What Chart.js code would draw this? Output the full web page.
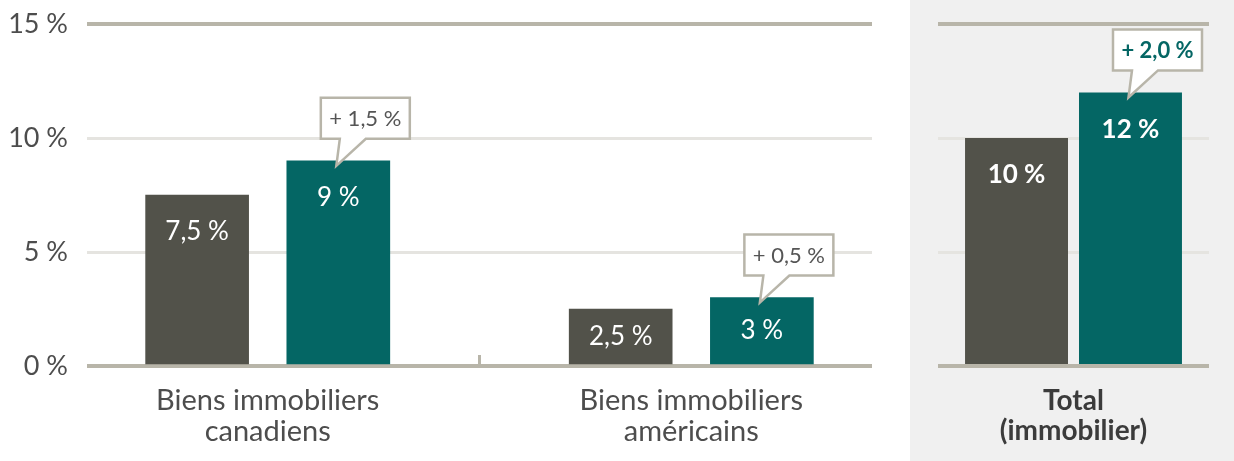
<!DOCTYPE html>
<html>
<head>
<meta charset="utf-8">
<script src="https://cdn.jsdelivr.net/npm/chart.js@4.4.1/dist/chart.umd.min.js"></script>
<style>
  body { margin: 0; background: #fff; }
  #wrap { position: relative; width: 1234px; height: 461px; }
  #left { position: absolute; left: 0; top: 0; }
  #panel { position: absolute; left: 910px; top: 0; width: 324px; height: 461px; background: #f0f0f0; }
</style>
</head>
<body>
<div id="wrap">
  <canvas id="left" width="910" height="461"></canvas>
  <div id="panel"><canvas id="right" width="324" height="461"></canvas></div>
</div>
<script>
// categories (x-axis labels)
var categories = [["Biens immobiliers", "canadiens"], ["Biens immobiliers", "américains"]];
var totalCategory = [["Total", "(immobilier)"]];
// values, in %
var before = [7.5, 2.5];
var after = [9, 3];
var totalBefore = [10];
var totalAfter = [12];
// y-axis ticks
var yTicks = [0, 5, 10, 15];

var grey = "#52524a", teal = "#046664";
var rule = "#b8b5a9", light = "#e5e4e0", txt = "#4d4d4d";

Chart.defaults.font.family = "Lato";

function pct(v) { return String(v).replace(".", ",") + " %"; }
function gain(a, b) { return "+ " + (b - a).toFixed(1).replace(".", ",") + " %"; }
function val(d) { return typeof d === "object" ? d.y : d; }

// bar labels, callouts and the divider tick
var marks = {
  id: "marks",
  afterDatasetsDraw: function(chart, args, opts) {
    var ctx = chart.ctx;
    var ds = chart.data.datasets;
    ctx.save();
    ds.forEach(function(set, di) {
      chart.getDatasetMeta(di).data.forEach(function(bar, i) {
        var h = bar.base - bar.y;
        var y = h < 90 ? bar.y + h / 2 : bar.y + 37;
        ctx.fillStyle = "#fff";
        ctx.font = (opts.bold ? "bold " : "") + "26px Lato";
        ctx.textAlign = "center";
        ctx.textBaseline = "middle";
        ctx.fillText(pct(val(set.data[i])), bar.x, y);
      });
    });
    chart.getDatasetMeta(1).data.forEach(function(bar, i) {
      var left = bar.x - bar.width / 2 + 34;
      var bottom = bar.y - 22;
      var top = bottom - 41, right = left + 89;
      ctx.beginPath();
      ctx.moveTo(left, top);
      ctx.lineTo(right, top);
      ctx.lineTo(right, bottom);
      ctx.lineTo(left + 45, bottom);
      ctx.lineTo(bar.x - 2, bar.y + 5);
      ctx.lineTo(left + 19, bottom);
      ctx.lineTo(left, bottom);
      ctx.closePath();
      ctx.fillStyle = "#fff";
      ctx.fill();
      ctx.lineWidth = 2.5;
      ctx.strokeStyle = rule;
      ctx.lineJoin = "miter";
      ctx.stroke();
      ctx.fillStyle = opts.bold ? teal : "#555";
      ctx.font = (opts.bold ? "bold " : "") + "22px Lato";
      ctx.fillText(gain(val(ds[0].data[i]), val(ds[1].data[i])), (left + right) / 2, (top + bottom) / 2 + 1);
    });
    if (opts.divider !== undefined) {
      var x = chart.scales.x.getPixelForValue(opts.divider);
      ctx.beginPath();
      ctx.moveTo(x, chart.chartArea.bottom - 11);
      ctx.lineTo(x, chart.chartArea.bottom);
      ctx.lineWidth = 3;
      ctx.strokeStyle = rule;
      ctx.stroke();
    }
    ctx.restore();
  }
};

function yGrid() {
  return {
    drawTicks: false,
    color: function(c) { return (c.tick && (c.tick.value === 0 || c.tick.value === 15)) ? rule : light; },
    lineWidth: function(c) { return (c.tick && (c.tick.value === 0 || c.tick.value === 15)) ? 4 : 3; }
  };
}

new Chart(document.getElementById("left"), {
  type: "bar",
  data: {
    datasets: [
      { data: before.map(function(v, i) { return { x: 3 * i, y: v }; }), backgroundColor: grey, grouped: false, barThickness: 103 },
      { data: after.map(function(v, i) { return { x: 3 * i + 1, y: v }; }), backgroundColor: teal, grouped: false, barThickness: 103 }
    ]
  },
  options: {
    responsive: false,
    animation: false,
    layout: { padding: { top: 24, right: 38, left: 0, bottom: 0 } },
    plugins: { legend: { display: false }, tooltip: { enabled: false }, marks: { bold: false, divider: 2 } },
    scales: {
      x: {
        type: "linear", min: -0.78, max: 4.78, offset: false,
        grid: { display: false }, border: { display: false },
        afterBuildTicks: function(s) { s.ticks = categories.map(function(c, i) { return { value: 3 * i + 0.5 }; }); },
        afterFit: function(s) { s.height = 95; },
        ticks: {
          autoSkip: false, maxRotation: 0, padding: 12, color: txt,
          font: { size: 29, lineHeight: 1.04 },
          callback: function(v, i) { return categories[i]; }
        }
      },
      y: {
        min: 0, max: 15,
        afterBuildTicks: function(s) { s.ticks = yTicks.map(function(v) { return { value: v }; }); },
        afterFit: function(s) { s.width = 87; s.paddingTop = 0; s.paddingBottom = 0; },
        border: { display: false },
        grid: yGrid(),
        ticks: { padding: 19, color: txt, font: { size: 27 }, callback: function(v) { return v + " %"; } }
      }
    }
  },
  plugins: [marks]
});

new Chart(document.getElementById("right"), {
  type: "bar",
  data: {
    labels: totalCategory,
    datasets: [
      { data: totalBefore, backgroundColor: grey, categoryPercentage: 0.841, barPercentage: 0.9035 },
      { data: totalAfter, backgroundColor: teal, categoryPercentage: 0.841, barPercentage: 0.9035 }
    ]
  },
  options: {
    responsive: false,
    animation: false,
    layout: { padding: { top: 24, right: 25, left: 0, bottom: 0 } },
    plugins: { legend: { display: false }, tooltip: { enabled: false }, marks: { bold: true } },
    scales: {
      x: {
        grid: { display: false }, border: { display: false },
        afterFit: function(s) { s.height = 95; },
        ticks: { padding: 12, color: "#3b3b3b", font: { size: 28, weight: "bold", lineHeight: 1.07 } }
      },
      y: {
        min: 0, max: 15,
        afterBuildTicks: function(s) { s.ticks = yTicks.map(function(v) { return { value: v }; }); },
        afterFit: function(s) { s.width = 28; },
        border: { display: false },
        grid: yGrid(),
        ticks: { display: false }
      }
    }
  },
  plugins: [marks]
});
</script>
</body>
</html>
